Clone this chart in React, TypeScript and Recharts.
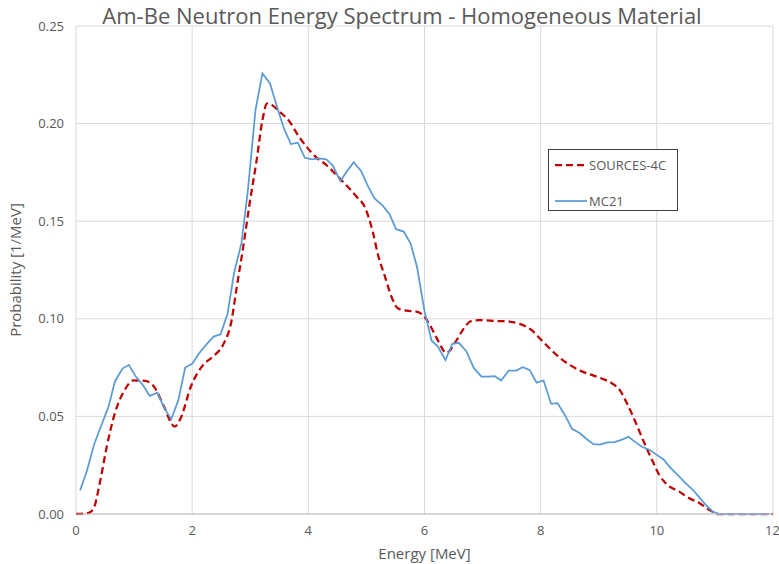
import React from "react";
import { CartesianGrid, Line, LineChart, XAxis, YAxis } from "recharts";

// SOURCES-4C (dashed red)
const s4cEnergy = [
  0, 0.21, 0.3, 0.41, 0.53, 0.67, 0.84, 0.985, 1.19, 1.36, 1.5, 1.7, 1.79, 1.99, 2.19, 2.36, 2.53, 2.68,
  2.76, 2.88, 2.99, 3.11, 3.21, 3.29, 3.37, 3.51, 3.68, 3.82, 3.97, 4.14, 4.31, 4.48, 4.65, 4.83, 4.97,
  5.11, 5.2, 5.31, 5.43, 5.54, 5.69, 5.86, 5.97, 6.09, 6.21, 6.38, 6.52, 6.66, 6.8, 6.94, 7.23, 7.46,
  7.64, 7.84, 8.01, 8.18, 8.33, 8.5, 8.7, 8.9, 9.07, 9.24, 9.36, 9.47, 9.59, 9.7, 9.81, 9.93, 10.04,
  10.18, 10.38, 10.55, 10.73, 10.9, 11.05, 12,
];
const s4cProb = [
  0, 0.0005, 0.0026, 0.0159, 0.0346, 0.0517, 0.0636, 0.0684, 0.0682, 0.0645, 0.056, 0.0448, 0.0483,
  0.0662, 0.0764, 0.0807, 0.0866, 0.0994, 0.1148, 0.137, 0.1592, 0.1813, 0.2018, 0.2103, 0.2095, 0.206,
  0.2009, 0.1941, 0.1881, 0.1826, 0.1788, 0.1737, 0.1685, 0.1625, 0.1574, 0.1445, 0.1327, 0.1225,
  0.1114, 0.1054, 0.1042, 0.1037, 0.102, 0.0969, 0.0901, 0.0825, 0.0875, 0.0943, 0.0988, 0.0993,
  0.0989, 0.0986, 0.0974, 0.0943, 0.0892, 0.0841, 0.08, 0.0764, 0.0732, 0.071, 0.0692, 0.0667, 0.0636,
  0.0576, 0.05, 0.0423, 0.0346, 0.0269, 0.0201, 0.015, 0.0116, 0.0082, 0.0056, 0.0022, 0, 0,
];

// MC21 (solid blue)
const mcEnergy = [
  0.07, 0.19, 0.31, 0.44, 0.56, 0.67, 0.8, 0.91, 1.03, 1.16, 1.27, 1.4, 1.52, 1.64, 1.76, 1.88, 2.0,
  2.12, 2.25, 2.37, 2.49, 2.61, 2.72, 2.85, 2.96, 3.09, 3.21, 3.34, 3.46, 3.58, 3.7, 3.82, 3.94, 4.06,
  4.18, 4.31, 4.42, 4.55, 4.66, 4.78, 4.91, 5.03, 5.14, 5.28, 5.4, 5.51, 5.64, 5.76, 5.87, 6.0, 6.12,
  6.23, 6.36, 6.48, 6.59, 6.72, 6.85, 6.98, 7.09, 7.21, 7.32, 7.45, 7.58, 7.69, 7.81, 7.93, 8.05, 8.18,
  8.29, 8.42, 8.54, 8.67, 8.78, 8.91, 9.02, 9.15, 9.27, 9.39, 9.51, 9.63, 9.75, 9.87, 10.0, 10.12,
  10.24, 10.37, 10.49, 10.62, 10.73, 10.85, 10.96, 11.08, 11.2, 11.32, 11.44, 11.56, 11.68, 11.8, 11.94,
];
const mcProb = [
  0.012, 0.0223, 0.0355, 0.0457, 0.055, 0.0679, 0.0745, 0.0764, 0.0704, 0.0657, 0.0605, 0.0622, 0.0542,
  0.0486, 0.0581, 0.075, 0.0769, 0.0824, 0.087, 0.0909, 0.0921, 0.1027, 0.1233, 0.139, 0.166, 0.2069,
  0.2257, 0.2206, 0.2086, 0.1975, 0.1895, 0.1902, 0.1825, 0.1817, 0.1822, 0.1817, 0.1785, 0.1706,
  0.1753, 0.1802, 0.1756, 0.1677, 0.1617, 0.158, 0.1535, 0.1459, 0.1447, 0.1387, 0.1267, 0.104, 0.0889,
  0.0858, 0.0789, 0.0872, 0.0877, 0.0834, 0.0747, 0.0704, 0.0704, 0.0706, 0.0684, 0.0735, 0.0735,
  0.0752, 0.0738, 0.0673, 0.0684, 0.0564, 0.0568, 0.0505, 0.0436, 0.0415, 0.0387, 0.0358, 0.0356,
  0.0367, 0.0368, 0.038, 0.0396, 0.0368, 0.0343, 0.0329, 0.0303, 0.0278, 0.0235, 0.0196, 0.0159,
  0.0124, 0.0085, 0.0044, 0.0013, 0, 0, 0, 0, 0, 0, 0, 0,
];

const xTicks = [0, 2, 4, 6, 8, 10, 12];
const yTicks = [0, 0.05, 0.1, 0.15, 0.2, 0.25];

const s4cData = s4cEnergy.map((e, i) => ({ e, p: s4cProb[i] }));
const mcData = mcEnergy.map((e, i) => ({ e, p: mcProb[i] }));

const FONT = "'Open Sans', sans-serif";
const TEXT = "#595959";

function LegendBox() {
  return (
    <div
      style={{
        position: "absolute",
        left: 548,
        top: 149,
        border: "1px solid #404040",
        width: 130,
        height: 62,
        boxSizing: "border-box",
        background: "#fff",
        fontFamily: FONT,
        fontSize: 13,
        color: TEXT,
        padding: "4px 0 0 6px",
      }}
    >
      <div style={{ display: "flex", alignItems: "center", height: 22 }}>
        <svg width={32} height={6}>
          <line x1={0} y1={3} x2={32} y2={3} stroke="#C00000" strokeWidth={2.25} strokeDasharray="7 4" />
        </svg>
        <span style={{ marginLeft: 2 }}>SOURCES-4C</span>
      </div>
      <div style={{ display: "flex", alignItems: "center", height: 22, marginTop: 14 }}>
        <svg width={32} height={6}>
          <line x1={0} y1={3} x2={32} y2={3} stroke="#5B9BD5" strokeWidth={1.75} />
        </svg>
        <span style={{ marginLeft: 2 }}>MC21</span>
      </div>
    </div>
  );
}

export default function App() {
  return (
    <div style={{ position: "absolute", left: 0, top: 0, width: 779, height: 564, background: "#fff" }}>
      <LineChart width={779} height={564} margin={{ top: 26, right: 6, bottom: 0, left: 0 }}>
        <text x={402} y={24} textAnchor="middle" fontFamily={FONT} fontSize={22} fill={TEXT}>
          Am-Be Neutron Energy Spectrum - Homogeneous Material
        </text>
        <CartesianGrid stroke="#D9D9D9" strokeWidth={1} />
        <XAxis
          dataKey="e"
          type="number"
          domain={[0, 12]}
          ticks={xTicks}
          allowDataOverflow
          height={50}
          stroke="#BFBFBF"
          tickLine={false}
          tick={{ fill: TEXT, fontSize: 13, fontFamily: FONT }}
          tickMargin={6}
          label={{ value: "Energy [MeV]", position: "insideBottom", offset: 5, fill: TEXT, fontSize: 15, fontFamily: FONT }}
        />
        <YAxis
          type="number"
          domain={[0, 0.25]}
          ticks={yTicks}
          width={76}
          axisLine={false}
          tickLine={false}
          tickFormatter={(v: number) => v.toFixed(2)}
          tick={{ fill: TEXT, fontSize: 13, fontFamily: FONT }}
          tickMargin={6}
          label={{
            value: "Probability [1/MeV]",
            angle: -90,
            position: "insideLeft",
            offset: 16,
            style: { textAnchor: "middle" },
            fill: TEXT,
            fontSize: 15,
            fontFamily: FONT,
          }}
        />
        <Line
          data={s4cData}
          dataKey="p"
          name="SOURCES-4C"
          type="monotone"
          stroke="#C00000"
          strokeWidth={2.25}
          strokeDasharray="7 4"
          dot={false}
          isAnimationActive={false}
        />
        <Line
          data={mcData}
          dataKey="p"
          name="MC21"
          type="linear"
          stroke="#5B9BD5"
          strokeWidth={1.75}
          dot={false}
          isAnimationActive={false}
        />
      </LineChart>
      <LegendBox />
    </div>
  );
}
